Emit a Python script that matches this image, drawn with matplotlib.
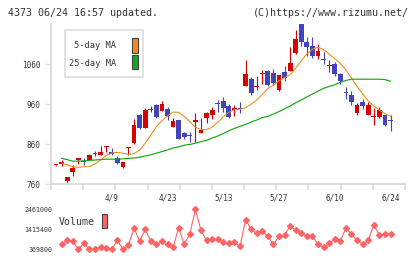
import matplotlib.pyplot as plt
from matplotlib.patches import Rectangle
import numpy as np

W, H = 420, 259

# daily candles (index 0 = first day shown)
opens = [807, 810, 768, 790, 820, 816, 820, 838, 833, 852,
         840, 824, 802, 849, 862, 932, 899, 944, 957, 943,
         948, 903, 920, 887, 881, 916, 888, 924, 932, 961,
         967, 955, 944, 950, 1006, 1022, 1002, 1034, 1042, 1038,
         995, 1039, 1043, 1087, 1162, 1115, 1105, 1080, 1073, 1055,
         1060, 1035, 990, 982, 938, 965, 933, 928, 928, 932,
         919]
highs = [808, 820, 778, 808, 825, 826, 834, 843, 855, 855,
         850, 830, 816, 853, 923, 935, 950, 954, 960, 968,
         953, 924, 921, 890, 891, 937, 924, 941, 953, 969,
         978, 961, 957, 965, 1070, 1028, 1030, 1045, 1045, 1048,
         1033, 1055, 1102, 1145, 1170, 1128, 1128, 1110, 1090, 1070,
         1065, 1038, 1002, 993, 962, 972, 965, 950, 952, 933,
         932]
lows = [806, 805, 762, 781, 810, 808, 820, 829, 832, 841,
        832, 809, 801, 832, 860, 898, 899, 939, 924, 942,
        920, 902, 872, 872, 866, 866, 887, 912, 922, 941,
        941, 924, 930, 938, 1005, 982, 996, 1011, 1006, 1007,
        992, 1017, 1042, 1084, 1105, 1080, 1075, 1072, 1060, 1041,
        1029, 1011, 973, 958, 932, 948, 932, 907, 925, 905,
        893]
closes = [807, 815, 777, 800, 825, 814, 833, 836, 841, 855,
          836, 813, 815, 852, 907, 899, 945, 948, 927, 960,
          930, 917, 873, 878, 879, 920, 895, 937, 945, 959,
          950, 928, 950, 948, 1035, 988, 1005, 1038, 1008, 1012,
          1032, 1024, 1062, 1122, 1116, 1103, 1080, 1092, 1071, 1058,
          1035, 1017, 988, 965, 957, 955, 957, 931, 945, 908,
          917]

ma5 = [np.nan, 812, 808, 803, 802, 803, 804, 810, 820, 831,
       837, 839, 837, 834, 836, 845, 862, 882, 903, 918,
       930, 940, 939, 929, 916, 902, 896, 896, 902, 914,
       928, 939, 946, 947, 951, 959, 970, 984, 999, 1007,
       1018, 1026, 1033, 1050, 1068, 1085, 1097, 1102, 1096, 1085,
       1073, 1062, 1045, 1025, 1004, 985, 968, 955, 945, 936,
       929]
ma25 = [np.nan, 824, 821, 817, 817, 818, 819, 820, 821, 822,
        822, 822, 823, 824, 825, 827, 830, 833, 837, 841,
        845, 850, 853, 857, 859, 862, 866, 869, 875, 880,
        886, 893, 899, 904, 909, 915, 920, 926, 929, 935,
        941, 948, 955, 963, 970, 978, 985, 992, 999, 1004,
        1008, 1014, 1019, 1022, 1022, 1022, 1022, 1022, 1022, 1021,
        1017]

volume = [np.nan, 631200, 840300, 788000, 369800, 683500, 369800, 369800, 509200, 422100,
          369800, 840300, 369800, 596400, 1485100, 788000, 1415400, 788000, 631200, 788000,
          631200, 474400, 1485100, 631200, 1171400, 2461000, 1363100, 840300, 892600, 892600,
          735800, 683500, 735800, 526600, 1903400, 1415400, 1206300, 1310900, 1049500, 631200,
          1049500, 1101700, 1589700, 1363100, 1241200, 1049500, 1049500, 631200, 474400, 683500,
          892600, 788000, 1485100, 1154000, 840300, 631200, 840300, 1642000, 1101700, 1171400,
          1171400]

label_days = [10, 20, 30, 40, 50, 60]
label_text = ['4/9', '4/23', '5/13', '5/27', '6/10', '6/24']
price_ticks = [760, 860, 960, 1060]

RED = '#d80000'
BLUE = '#4343bb'
ORANGE = '#ee8a10'
GREEN = '#12a812'
VOLRED = '#ff6464'
GRAY = '#dddddd'
TXT = '#333333'
MONO = 'DejaVu Sans Mono'

fig = plt.figure(figsize=(W / 100, H / 100), dpi=100)


def box(x0, y0, x1, y1):
    # pixel box (top-left origin) -> figure fraction
    return [x0 / W, 1 - y1 / H, (x1 - x0) / W, (y1 - y0) / H]


ax = fig.add_axes(box(51, 24, 405, 184))
vax = fig.add_axes(box(51, 209.3, 405, 249.3))

idx = np.arange(len(closes))
o, hi, lo, c = (np.array(a, dtype=float) for a in (opens, highs, lows, closes))
cols = np.where(c >= o, RED, BLUE)

# candles
ax.vlines(idx, lo, hi, colors=cols, lw=0.8)
ax.bar(idx, np.maximum(np.abs(c - o), 2.5), bottom=np.minimum(o, c),
       width=0.86, color=cols, lw=0)

# moving averages
ax.plot(idx, ma5, color=ORANGE, lw=0.75)
ax.plot(idx, ma25, color=GREEN, lw=0.85)

ax.set_xlim(-0.9, 62.6)
ax.set_ylim(760, 1160)
for s in ['top', 'right']:
    ax.spines[s].set_visible(False)
for s in ['left', 'bottom']:
    ax.spines[s].set_color(GRAY)
    ax.spines[s].set_linewidth(1.5)
ax.set_facecolor('none')

ax.set_yticks(price_ticks)
ax.set_yticklabels([str(v) for v in price_ticks], family=MONO, fontsize=5.5, color=TXT)
ax.tick_params(axis='y', color=GRAY, length=4.5, width=1, pad=3)

ax.set_xticks(np.linspace(-0.9, 62.6, 12))
ax.set_xticklabels([])
ax.tick_params(axis='x', which='major', color=GRAY, length=4.5, width=1.2)
ax.set_xticks(label_days, minor=True)
ax.set_xticklabels(label_text, minor=True, family=MONO, fontsize=5.5, color=TXT)
ax.tick_params(axis='x', which='minor', length=0, pad=7)

# volume
vax.plot(idx, volume, color=VOLRED, lw=0.8, marker='D', ms=3.0, mec=VOLRED,
         clip_on=False)
vmin, vmax = np.nanmin(volume), np.nanmax(volume)
vax.set_xlim(-0.9, 62.6)
vax.set_ylim(vmin, vmax)
vticks = [vmin, (vmin + vmax) / 2, vmax]
vax.set_yticks(vticks)
vax.set_yticklabels([str(int(v)) for v in vticks], family=MONO, fontsize=4.8, color=TXT)
vax.tick_params(axis='y', length=0, pad=-1)
vax.set_xticks([])
for s in vax.spines.values():
    s.set_visible(False)
vax.set_facecolor('none')

# overlay for header texts and legends
oax = fig.add_axes([0, 0, 1, 1], zorder=-1)
oax.set_xlim(0, W)
oax.set_ylim(H, 0)
oax.axis('off')

oax.text(8, 12.5, '4373 06/24 16:57 updated.', family=MONO, fontsize=7.2,
         color=TXT, ha='left', va='center')
oax.text(409, 12.5, '(C)https://www.rizumu.net/', family=MONO, fontsize=7.2,
         color=TXT, ha='right', va='center')

oax.add_patch(Rectangle((65, 30), 78, 47, fc='white', ec=GRAY, lw=1.2))
oax.text(116, 46, '5-day MA', family=MONO, fontsize=6.2, color=TXT,
         ha='right', va='center')
oax.text(116, 63, '25-day MA', family=MONO, fontsize=6.2, color=TXT,
         ha='right', va='center')
oax.add_patch(Rectangle((131.5, 37.5), 6, 15.5, fc='#f08a1c', ec='#444444', lw=0.8))
oax.add_patch(Rectangle((131.5, 55), 6, 14, fc='#14a81e', ec='#444444', lw=0.8))

oax.text(59, 222, 'Volume', family=MONO, fontsize=7.1, color=TXT,
         ha='left', va='center')
oax.add_patch(Rectangle((102, 213.5), 5, 14.5, fc=VOLRED, ec='#444444', lw=0.8))

fig.savefig('out.png', dpi=100, facecolor='white')
